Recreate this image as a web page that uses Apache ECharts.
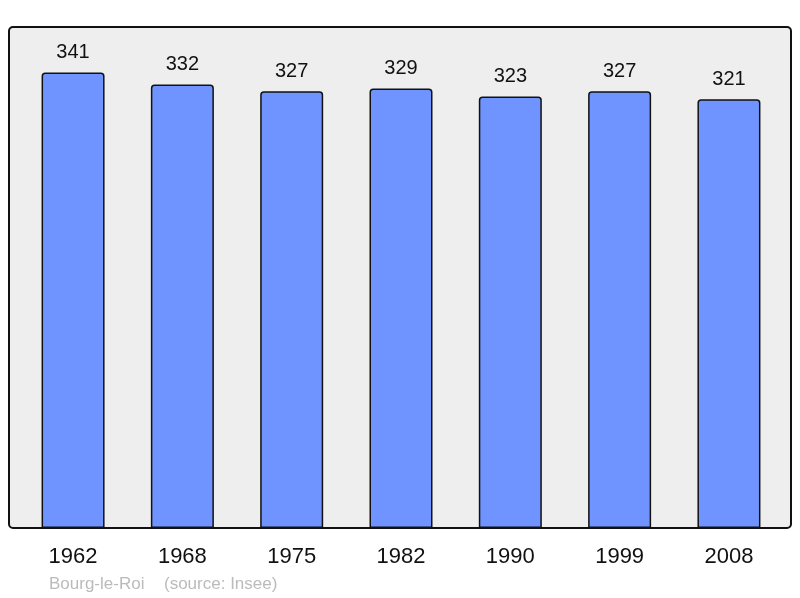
<!DOCTYPE html>
<html>
<head>
<meta charset="utf-8">
<style>html,body{margin:0;padding:0;background:#fff;}#c{width:800px;height:598px;}</style>
<script src="https://cdn.jsdelivr.net/npm/echarts@6/dist/echarts.min.js"></script>
</head>
<body>
<div id="c"></div>
<script>
var years = ['1962','1968','1975','1982','1990','1999','2008'];
var population = [341, 332, 327, 329, 323, 327, 321];
var footerPlace = 'Bourg-le-Roi';
var footerSource = '(source: Insee)';

var chart = echarts.init(document.getElementById('c'), null, {renderer:'canvas'});
chart.setOption({
  animation: false,
  backgroundColor: '#ffffff',
  graphic: [
    {type:'rect', z:-10, shape:{x:9, y:27, width:782, height:501, r:4},
     style:{fill:'#eeeeee', stroke:'#111111', lineWidth:2}},
    {type:'text', left:49, top:576, style:{text:footerPlace, fill:'#bbbbbb', font:'17px "Liberation Sans", Arial, sans-serif'}},
    {type:'text', left:164, top:576, style:{text:footerSource, fill:'#bbbbbb', font:'17px "Liberation Sans", Arial, sans-serif'}}
  ],
  grid: {left:18.4, right:16.4, top:27, bottom:70, containLabel:false},
  xAxis: {
    type:'category', data: years,
    axisLine:{show:false}, axisTick:{show:false},
    axisLabel:{color:'#111', fontSize:22, fontFamily:'"Liberation Sans", Arial, sans-serif', margin:18}
  },
  yAxis: {type:'value', min:0, max:375, show:false, splitLine:{show:false}},
  series: [{
    type:'bar', data: population, barWidth:63,
    itemStyle:{color:'#7094ff', borderColor:'#111111', borderWidth:1.5, borderRadius:[3,3,0,0]},
    label:{show:true, position:'top', distance:10, color:'#111', fontSize:20, fontFamily:'"Liberation Sans", Arial, sans-serif'}
  }]
});
</script>
</body>
</html>
